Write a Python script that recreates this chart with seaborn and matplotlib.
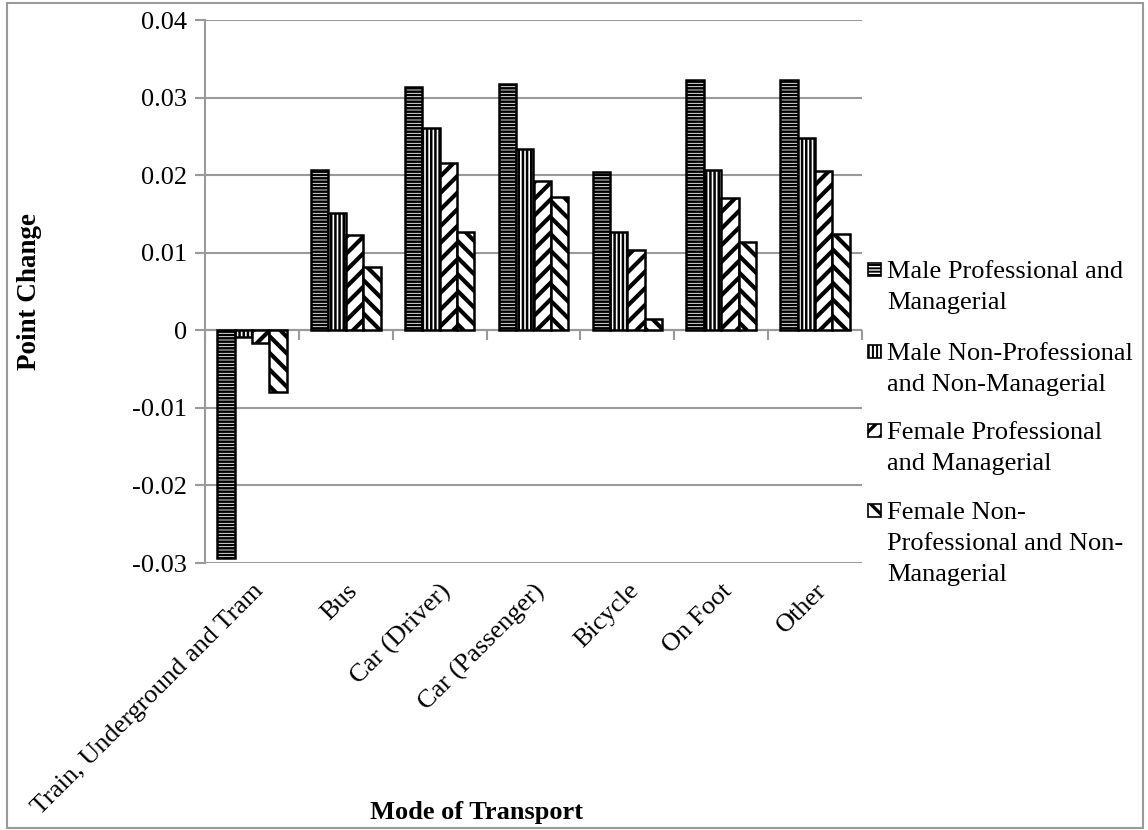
import matplotlib
matplotlib.use("Agg")
import matplotlib.pyplot as plt
import seaborn as sns
import pandas as pd
import numpy as np
from matplotlib.patches import Rectangle

# Categories and series
modes = ["Train, Underground and Tram", "Bus", "Car (Driver)", "Car (Passenger)",
         "Bicycle", "On Foot", "Other"]
groups = ["Male Professional and\nManagerial",
          "Male Non-Professional\nand Non-Managerial",
          "Female Professional\nand Managerial",
          "Female Non-\nProfessional and Non-\nManagerial"]

male_prof = [-0.0293, 0.0206, 0.0313, 0.0317, 0.0204, 0.0323, 0.0323]
male_nonprof = [-0.0009, 0.0151, 0.0261, 0.0234, 0.0127, 0.0207, 0.0248]
female_prof = [-0.0016, 0.0123, 0.0216, 0.0193, 0.0104, 0.0171, 0.0205]
female_nonprof = [-0.0079, 0.0082, 0.0127, 0.0172, 0.0014, 0.0114, 0.0124]

series = [male_prof, male_nonprof, female_prof, female_nonprof]
hatches = ["-----", "||||", "//", "\\\\"]
hatch_widths = [1.8, 1.8, 3.0, 3.0]

df = pd.DataFrame({
    "Mode": np.tile(modes, len(groups)),
    "Group": np.repeat(groups, len(modes)),
    "Value": np.concatenate(series),
})

sns.set_theme(style="white")
plt.rcParams["font.family"] = ["Liberation Serif", "DejaVu Serif"]
plt.rcParams["text.color"] = "black"
plt.rcParams["axes.labelcolor"] = "black"
plt.rcParams["xtick.color"] = "black"
plt.rcParams["ytick.color"] = "black"
plt.rcParams["hatch.color"] = "black"
plt.rcParams["hatch.linewidth"] = 1.8

FS = 19
W, H = 1148, 830
fig = plt.figure(figsize=(W / 100, H / 100), dpi=100)
fig.patch.set_facecolor("white")
ax = fig.add_axes([205 / W, 1 - 563 / H, (862 - 205) / W, (563 - 20) / H])

sns.barplot(data=df, x="Mode", y="Value", hue="Group", order=modes, hue_order=groups,
            palette=["white"] * 4, width=0.74, gap=0, edgecolor="black",
            linewidth=1.8, legend=False, ax=ax, zorder=3)


def style_patch(p, hatch, hlw):
    p.set_hatch(hatch)
    p.set_edgecolor("black")
    p.set_facecolor("white")
    if hasattr(p, "set_hatch_linewidth"):
        p.set_hatch_linewidth(hlw)


for cont, h, hw in zip(ax.containers, hatches, hatch_widths):
    for bar in cont:
        style_patch(bar, h, hw)

grid_c = "#9a9a9a"
ax.set_ylim(-0.03, 0.04)
ax.set_xlim(-0.5, len(modes) - 0.5)
yt = np.round(np.arange(-0.03, 0.0401, 0.01), 2)
ax.set_yticks(yt)
ax.set_yticklabels(["0" if abs(v) < 1e-9 else f"{v:g}" for v in yt])
ax.yaxis.grid(True, color=grid_c, linewidth=1.5, zorder=0)
ax.set_axisbelow(True)
for s in ["top", "right", "bottom"]:
    ax.spines[s].set_visible(False)
ax.spines["left"].set_color(grid_c)
ax.spines["left"].set_linewidth(1.5)
ax.tick_params(axis="y", direction="out", length=7, width=1.5, color=grid_c,
               labelsize=FS, pad=6, left=True)

# Category axis along zero with downward tick marks between categories
ax.axhline(0, color=grid_c, linewidth=1.5, zorder=2)
bounds = np.arange(-0.5, len(modes) - 0.5 + 1e-9, 1.0)
ax.plot(bounds, np.zeros_like(bounds), linestyle="none", marker=3, markersize=7,
        color=grid_c, markeredgewidth=1.5, zorder=2, clip_on=False)

ax.set_xticks(range(len(modes)))
ax.set_xticklabels(modes, rotation=45, ha="right", rotation_mode="anchor", fontsize=FS)
ax.tick_params(axis="x", length=0, pad=12)

ax.set_xlabel("Mode of Transport", fontsize=FS, fontweight="bold", va="center")
ax.xaxis.set_label_coords((477 - 205) / (862 - 205), -(813 - 563) / (563 - 20))
ax.set_ylabel("Point Change", fontsize=FS + 0.5, fontweight="bold", va="center")
ax.yaxis.set_label_coords(-(205 - 30) / (862 - 205), 0.5)

# Legend: hatched swatch beside the first line of each wrapped label
first_baselines = [278, 360, 439, 519]
line_step = 31
for lab, h, hw, yb in zip(groups, hatches, hatch_widths, first_baselines):
    sw = Rectangle((868 / W, 1 - (yb - 2) / H), 13 / W, 13 / H, transform=fig.transFigure,
                   facecolor="white", edgecolor="black", linewidth=1.2)
    style_patch(sw, h, hw * 0.8)
    fig.add_artist(sw)
    for i, line in enumerate(lab.split("\n")):
        fig.text(887 / W, 1 - (yb + i * line_step) / H, line, fontsize=FS,
                 va="baseline", ha="left")

# Outer chart border
fig.add_artist(Rectangle((7 / W, 2 / H), 1 - 12 / W, 1 - 5 / H, transform=fig.transFigure,
                         fill=False, edgecolor=grid_c, linewidth=1.5))

fig.savefig("out.png", dpi=100, facecolor="white")
